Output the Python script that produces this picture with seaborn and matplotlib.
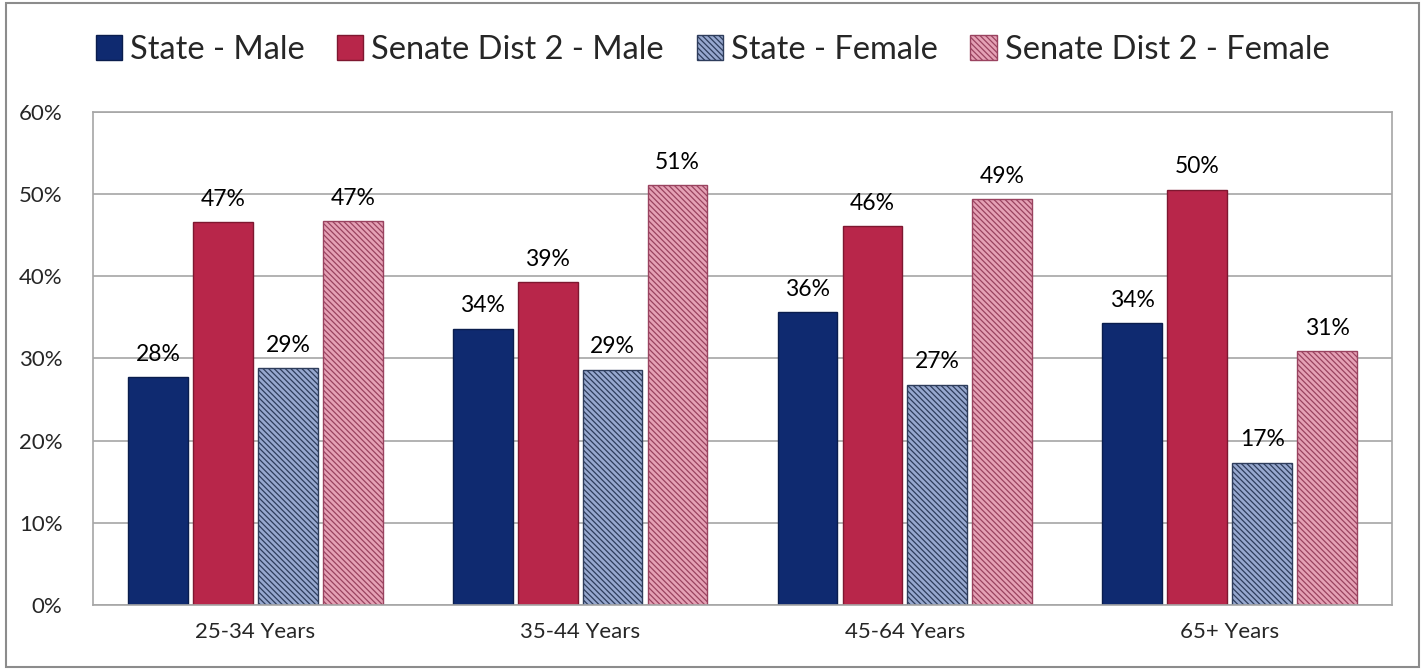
import matplotlib
matplotlib.use("Agg")
import matplotlib.pyplot as plt
import seaborn as sns
import pandas as pd
from matplotlib.patches import Rectangle, Patch

# Age groups and series shown on the chart
categories = ["25-34 Years", "35-44 Years", "45-64 Years", "65+ Years"]
series = ["State - Male", "Senate Dist 2 - Male", "State - Female", "Senate Dist 2 - Female"]

state_male = [27.7, 33.6, 35.6, 34.3]
senate_male = [46.6, 39.3, 46.1, 50.5]
state_female = [28.8, 28.6, 26.8, 17.3]
senate_female = [46.7, 51.1, 49.4, 30.9]

y_ticks = [0, 10, 20, 30, 40, 50, 60]

rows = []
for name, vals in zip(series, [state_male, senate_male, state_female, senate_female]):
    for cat, v in zip(categories, vals):
        rows.append({"Age": cat, "Series": name, "Value": v})
df = pd.DataFrame(rows)

sns.set_theme(style="white")
plt.rcParams["font.family"] = ["Lato", "DejaVu Sans"]
plt.rcParams["hatch.linewidth"] = 0.9

face = ["#0f2a70", "#b8264a", "#97a8cf", "#e5a1b5"]
edge = ["#0a1d4d", "#7e1730", "#2e3d5c", "#9a4360"]
hatches = [None, None, "\\\\\\\\\\\\", "\\\\\\\\\\\\"]

fig = plt.figure(figsize=(14.25, 6.70), dpi=100)
ax = fig.add_axes([0.0653, 0.097, 0.9115, 0.736])

sns.barplot(data=df, x="Age", y="Value", hue="Series", hue_order=series,
            order=categories, palette=face, width=0.8, gap=0.08, ax=ax,
            legend=False, saturation=1)

for i, cont in enumerate(ax.containers):
    for p in cont:
        p.set_facecolor(face[i])
        p.set_edgecolor(edge[i])
        p.set_linewidth(1.0)
        if hatches[i]:
            p.set_hatch(hatches[i])
    vals = [r.get_height() for r in cont]
    ax.bar_label(cont, labels=[f"{v:.0f}%" for v in vals], padding=9,
                 fontsize=16.5, color="black")

ax.set_ylim(0, 60)
ax.set_xlim(-0.5, 3.5)
ax.set_yticks(y_ticks)
ax.set_yticklabels([f"{t}%" for t in y_ticks], fontsize=16)
ax.tick_params(axis="x", labelsize=16, length=0, pad=12)
ax.tick_params(axis="y", length=0, pad=22)
ax.set_xlabel("")
ax.set_ylabel("")
ax.yaxis.grid(True, color="#a6a6a6", linewidth=1.2)
ax.set_axisbelow(True)
for s in ax.spines.values():
    s.set_visible(True)
    s.set_color("#a6a6a6")
    s.set_linewidth(1.2)

handles = [Patch(facecolor=face[i], edgecolor=edge[i], hatch=hatches[i]) for i in range(4)]
fig.legend(handles, series, loc="center", bbox_to_anchor=(0.5, 0.925), ncol=4,
           frameon=False, fontsize=23.5, handlelength=0.8, handleheight=0.8,
           handletextpad=0.25, columnspacing=1.0)

fig.patches.append(Rectangle((0.004, 0.004), 0.992, 0.992, transform=fig.transFigure,
                             fill=False, edgecolor="#8c8c8c", linewidth=1.5))

fig.savefig("out.png", dpi=100)
